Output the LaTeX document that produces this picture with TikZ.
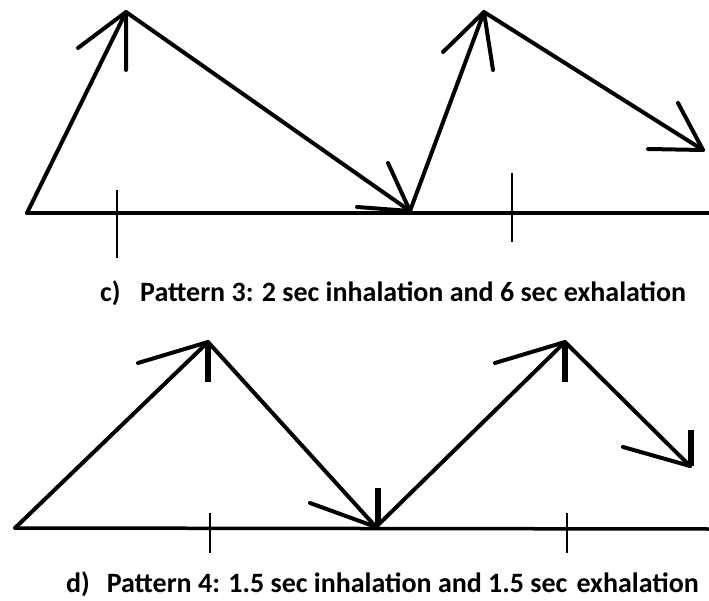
\documentclass[tikz,border=0pt]{standalone}
\usepackage{fontspec}
\setmainfont{Carlito}
\begin{document}
\begin{tikzpicture}[x=1pt,y=-1pt,
  stroke/.style={line width=4pt,line cap=round,line join=round},
  tickmark/.style={line width=2pt},
  caption/.style={font=\bfseries\fontsize{28}{31}\selectfont,inner sep=0pt,anchor=base west}]
\useasboundingbox[fill=white] (0,0) rectangle (709,601);
% ---- panel c ----
\coordinate (c0) at (27,213);
\coordinate (c1) at (126,12);
\coordinate (c2) at (410,211);
\coordinate (c3) at (484,12);
\coordinate (c4) at (703,150);
\draw[line width=4pt] (c0) -- (709,213);
\draw[tickmark] (117,190) -- (117,258);
\draw[tickmark] (512,173) -- (512,242);
\draw[stroke] (c0) -- (c1) -- (c2) -- (c3) -- (c4);
\draw[stroke] (78,48) -- (c1) -- (126,70);
\draw[stroke] (388,163) -- (c2) -- (357,207);
\draw[stroke] (443,52) -- (c3) -- (493,70);
\draw[stroke] (678,103) -- (c4) -- (648,149);
\node[caption] (capc) at (100,302) {c)\hspace{0.7em}Pattern 3: 2 sec inhalation and 6 sec exhalation};
% ---- panel d ----
\coordinate (d0) at (15,528);
\coordinate (d1) at (208,342);
\coordinate (d2) at (376,527);
\coordinate (d3) at (565,342);
\coordinate (d4) at (690,466);
\draw[line width=3.5pt] (d0) -- (709,529);
\draw[tickmark] (210,513) -- (210,553);
\draw[tickmark] (567,513) -- (567,553);
\draw[stroke] (d0) -- (d1) -- (d2) -- (d3) -- (d4);
\draw[stroke] (138,363) -- (d1);
\draw[line width=6pt] (208,344) -- (208,382);
\draw[stroke] (310,503) -- (d2);
\draw[line width=6pt] (378,525) -- (378,488);
\draw[stroke] (495,363) -- (d3);
\draw[line width=6pt] (565,344) -- (565,382);
\draw[stroke] (623,447) -- (d4);
\draw[line width=6pt] (691,466) -- (691,430);
\node[caption] (capd) at (66,592) {d)\hspace{0.6em}Pattern 4: 1.5 sec inhalation and 1.5 sec\hspace{0.1em} exhalation};
\end{tikzpicture}
\end{document}
